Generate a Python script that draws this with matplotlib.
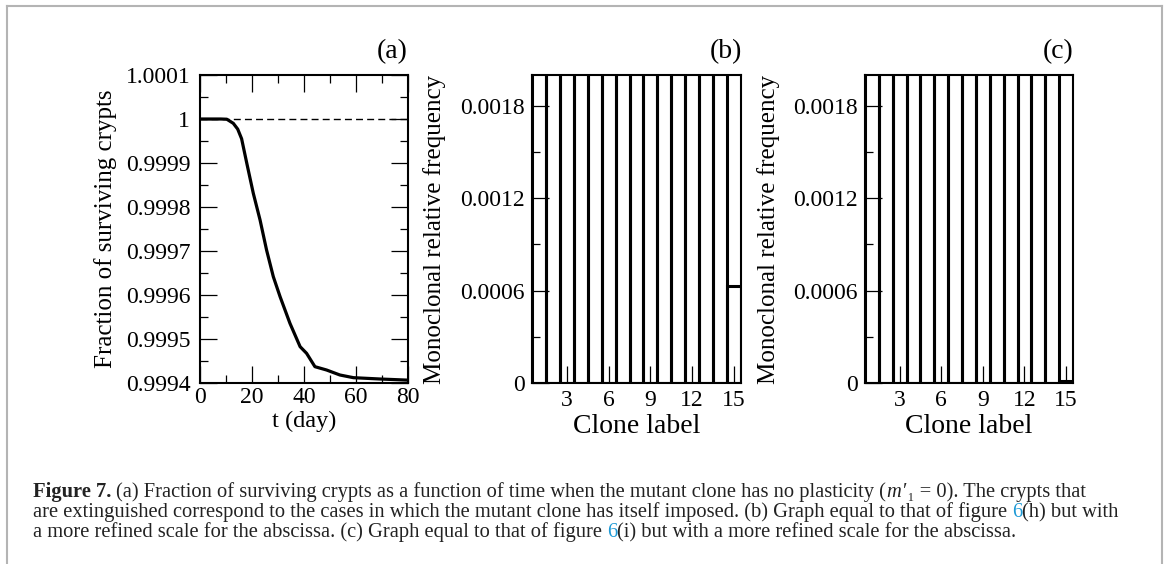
import matplotlib
matplotlib.use("Agg")
import matplotlib.pyplot as plt
from matplotlib.lines import Line2D
from matplotlib.ticker import MultipleLocator

plt.rcParams['font.family'] = ['Liberation Serif', 'DejaVu Serif']
plt.rcParams['mathtext.fontset'] = 'stix'

# (a) fraction of surviving crypts over time
t_day = [0, 4, 8, 10.3, 12.8, 14.5, 16.0, 18.0, 20.5, 23.1, 25.6, 28.2, 30.8,
         34.6, 38.5, 41.0, 44.2, 48.7, 53.8, 59.0, 69.2, 80]
surviving = [1.0, 1.0, 1.0, 0.9999995, 0.9999902, 0.999977, 0.9999552,
             0.9998993, 0.9998311, 0.9997705, 0.9997023, 0.9996416, 0.9995962,
             0.9995356, 0.9994826, 0.9994674, 0.9994371, 0.9994295, 0.9994182,
             0.9994121, 0.9994091, 0.9994065]
a_xticks = [0, 20, 40, 60, 80]
a_yticks = [0.9994, 0.9995, 0.9996, 0.9997, 0.9998, 0.9999, 1.0, 1.0001]
a_ylabels = ['0.9994', '0.9995', '0.9996', '0.9997', '0.9998', '0.9999', '1', '1.0001']

# (b), (c) monoclonal relative frequency per clone label
clone_labels = [1, 2, 3, 4, 5, 6, 7, 8, 9, 10, 11, 12, 13, 14, 15]
freq_b = [0.0714, 0.0714, 0.0714, 0.0714, 0.0714, 0.0714, 0.0714, 0.0714,
          0.0714, 0.0714, 0.0714, 0.0714, 0.0714, 0.0714, 0.00063]
freq_c = [0.0714, 0.0714, 0.0714, 0.0714, 0.0714, 0.0714, 0.0714, 0.0714,
          0.0714, 0.0714, 0.0714, 0.0714, 0.0714, 0.0714, 0.00001]
bc_xticks = [3, 6, 9, 12, 15]
bc_yticks = [0, 0.0006, 0.0012, 0.0018]
bc_ylabels = ['0', '0.0006', '0.0012', '0.0018']

link_blue = '#1e9ad6'
# each caption line is a list of (text, style) runs; None stands for a space
caption_lines = [
    [("Figure 7.", dict(fontweight='bold')), None,
     ("(a) Fraction of surviving crypts as a function of time when the mutant "
      "clone has no plasticity (", {}),
     ("m", dict(fontstyle='italic')),
     ("\u2032\u2081 = 0). The crypts that", {})],
    [("are extinguished correspond to the cases in which the mutant clone has "
      "itself imposed. (b) Graph equal to that of figure", {}), None,
     ("6", dict(color=link_blue)), ("(h) but with", {})],
    [("a more refined scale for the abscissa. (c) Graph equal to that of figure", {}),
     None, ("6", dict(color=link_blue)),
     ("(i) but with a more refined scale for the abscissa.", {})],
]

W, H = 1165, 564
fig = plt.figure(figsize=(W / 100, H / 100), dpi=100)


def px_axes(left, right, top, bottom):
    return fig.add_axes([left / W, 1 - bottom / H, (right - left) / W, (bottom - top) / H])


def frame(ax):
    for s in ax.spines.values():
        s.set_linewidth(1.5)


# panel (a)
ax_a = px_axes(200, 408, 75, 383)
ax_a.plot(t_day, surviving, color='k', lw=2.3, solid_joinstyle='round')
ax_a.axhline(1.0, color='k', lw=1.0, ls=(0, (5, 3)))
ax_a.set_xlim(0, 80)
ax_a.set_ylim(0.9994, 1.0001)
ax_a.set_xticks(a_xticks)
ax_a.set_yticks(a_yticks, labels=a_ylabels)
ax_a.xaxis.set_minor_locator(MultipleLocator(10))
ax_a.yaxis.set_minor_locator(MultipleLocator(0.00005))
ax_a.tick_params(which='both', direction='in', top=True, right=True, width=0.9,
                 labelsize=17)
ax_a.tick_params(which='major', length=12)
ax_a.tick_params(which='minor', length=6)
ax_a.tick_params(axis='y', pad=7)
ax_a.tick_params(axis='x', pad=3)
ax_a.set_xlabel("t (day)", fontsize=17.5)
ax_a.set_ylabel("Fraction of surviving crypts", fontsize=18)
ax_a.xaxis.set_label_coords(0.5, -0.09)
ax_a.yaxis.set_label_coords(-0.40, 0.5)
frame(ax_a)
fig.text(408 / W, 1 - 58 / H, "(a)", ha='right', va='baseline', fontsize=20)

# panels (b) and (c)
for (left, right, tag), freq in zip([(532, 741, "(b)"), (865, 1073, "(c)")],
                                    [freq_b, freq_c]):
    ax = px_axes(left, right, 75, 383)
    ax.bar(clone_labels, freq, width=1.0, fill=False, edgecolor='k', linewidth=2.2)
    ax.set_xlim(0.5, 15.5)
    ax.set_ylim(0, 0.002)
    ax.set_xticks(bc_xticks)
    ax.set_yticks(bc_yticks, labels=bc_ylabels)
    ax.yaxis.set_minor_locator(MultipleLocator(0.0003))
    ax.tick_params(which='both', direction='in', width=0.9, labelsize=17)
    ax.tick_params(which='major', length=12)
    ax.tick_params(which='minor', length=6)
    ax.tick_params(axis='y', pad=5)
    ax.tick_params(axis='x', pad=5)
    ax.set_xlabel("Clone label", fontsize=20)
    ax.set_ylabel("Monoclonal relative frequency", fontsize=18)
    ax.xaxis.set_label_coords(0.5, -0.1)
    ax.yaxis.set_label_coords(-0.41, 0.5)
    frame(ax)
    fig.text((right + 1) / W, 1 - 58 / H, tag, ha='right', va='baseline', fontsize=20)

# caption below the panels, written run by run
renderer = fig.canvas.get_renderer()
cap_size = 14.8


def text_width(s, **kw):
    t = fig.text(0, 0, s, fontsize=cap_size, **kw)
    w = t.get_window_extent(renderer).width
    t.remove()
    return w


space_w = text_width("x x") - text_width("xx")
for baseline, runs in zip([497, 517, 537], caption_lines):
    x = 33.0
    for run in runs:
        if run is None:
            x += space_w
            continue
        s, kw = run
        t = fig.text(x / W, 1 - baseline / H, s, fontsize=cap_size, ha='left',
                     va='baseline', color=kw.get('color', '#222222'),
                     fontweight=kw.get('fontweight', 'normal'),
                     fontstyle=kw.get('fontstyle', 'normal'))
        x += t.get_window_extent(renderer).width
        if kw.get('fontstyle') == 'italic':
            x += 1.5

# light gray border around the figure
border = '#b4b4b4'
fig.add_artist(Line2D([7 / W, 1162 / W], [1 - 6 / H, 1 - 6 / H], color=border, lw=1.5))
fig.add_artist(Line2D([7 / W, 7 / W], [0, 1 - 6 / H], color=border, lw=1.5))
fig.add_artist(Line2D([1162 / W, 1162 / W], [0, 1 - 6 / H], color=border, lw=1.5))

fig.savefig("out.png", dpi=100)
